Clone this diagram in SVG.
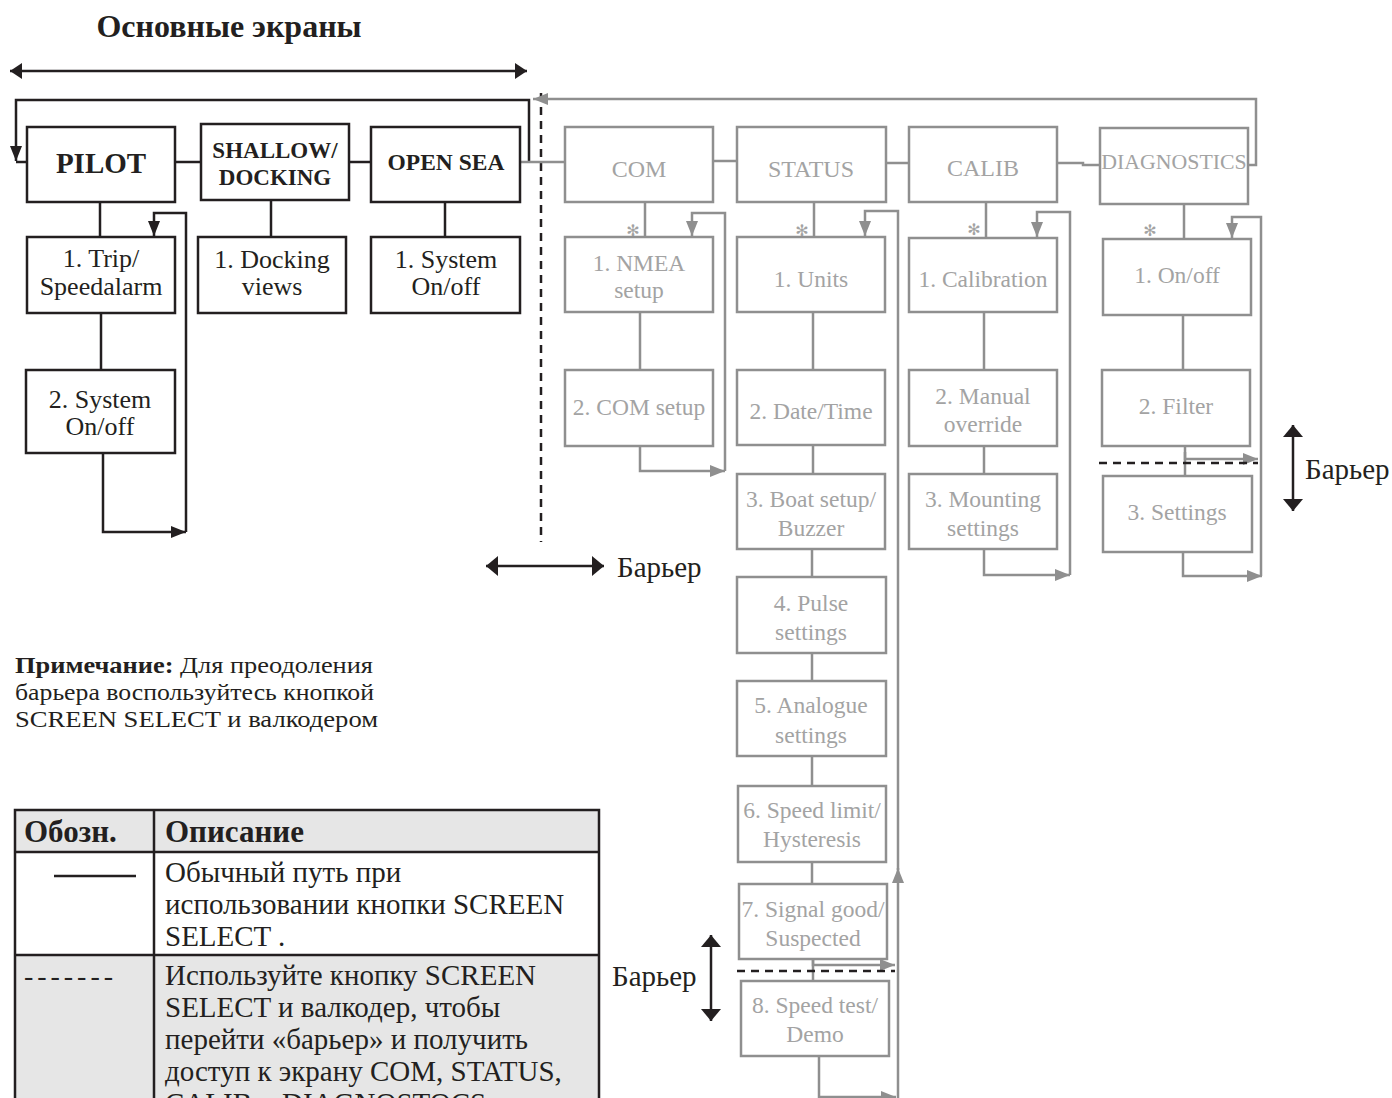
<svg xmlns="http://www.w3.org/2000/svg" width="1392" height="1098" viewBox="0 0 1392 1098">
<style>
.bk{fill:#fff;stroke:#231f20;stroke-width:2.5}
.gb{fill:#fff;stroke:#8f8f8f;stroke-width:2.5}
.t{font-family:"Liberation Serif","Times New Roman",serif;text-anchor:middle}
.tb{font-weight:bold;fill:#231f20}
.tn{font-size:26px;fill:#231f20}
.tg{fill:#a3a3a3}
.cb{fill:none;stroke:#231f20;stroke-width:2.5}
.cg{fill:none;stroke:#8f8f8f;stroke-width:2.5}
.dsh{fill:none;stroke:#231f20;stroke-width:2.5;stroke-dasharray:8 6}
.lbl{font-family:"Liberation Serif","Times New Roman",serif;fill:#231f20}
.ast{font-family:"DejaVu Sans",sans-serif;font-size:16px;fill:#a3a3a3;text-anchor:middle}
</style>
<defs>
<marker id="ab" markerUnits="userSpaceOnUse" markerWidth="16" markerHeight="12" refX="15" refY="6" orient="auto"><path d="M0,0 L15,6 L0,12 z" fill="#231f20"/></marker>
<marker id="ag" markerUnits="userSpaceOnUse" markerWidth="16" markerHeight="12" refX="15" refY="6" orient="auto"><path d="M0,0 L15,6 L0,12 z" fill="#8f8f8f"/></marker>
<marker id="bd" markerUnits="userSpaceOnUse" markerWidth="12" markerHeight="20" refX="12" refY="10" orient="auto-start-reverse"><path d="M0,0 L12,10 L0,20 z" fill="#231f20"/></marker>
<marker id="td" markerUnits="userSpaceOnUse" markerWidth="12" markerHeight="16" refX="12" refY="8" orient="auto-start-reverse"><path d="M0,0 L12,8 L0,16 z" fill="#231f20"/></marker>
</defs>
<rect width="1392" height="1098" fill="#fff"/>

<text class="lbl" x="229" y="37" font-size="32" font-weight="bold" text-anchor="middle">Основные экраны</text>

<g id="connectors">
<line class="cb" x1="10" y1="71" x2="527" y2="71" stroke-width="3" marker-start="url(#td)" marker-end="url(#td)"/>
<path class="cb" d="M529,162 V100 H16 V161" marker-end="url(#ab)"/>
<line class="cb" x1="16" y1="162" x2="27" y2="162"/>
<line class="cb" x1="175" y1="162" x2="201" y2="162"/>
<line class="cb" x1="349" y1="162" x2="371" y2="162"/>
<line class="cb" x1="100" y1="202" x2="100" y2="237"/>
<line class="cb" x1="101" y1="313" x2="101" y2="370"/>
<path class="cb" d="M103,453 V532 H186" marker-end="url(#ab)"/>
<path class="cb" d="M186,532 V213 H154 V236" marker-end="url(#ab)"/>
<line class="cb" x1="271" y1="200" x2="271" y2="237"/>
<line class="cb" x1="445" y1="202" x2="445" y2="237"/>
<line class="dsh" x1="541" y1="93" x2="541" y2="542"/>
<line class="cb" x1="486" y1="566" x2="604" y2="566" marker-start="url(#bd)" marker-end="url(#bd)"/>

<line class="cg" x1="520" y1="162" x2="565" y2="162"/>
<path class="cg" d="M1248,165 H1256 V99 H533" marker-end="url(#ag)"/>
<line class="cg" x1="713" y1="161" x2="737" y2="161"/>
<line class="cg" x1="885" y1="163" x2="909" y2="163"/>
<path class="cg" d="M1057,163 H1083 V165 H1100"/>

<line class="cg" x1="645" y1="202" x2="645" y2="237"/>
<line class="cg" x1="640" y1="312" x2="640" y2="370"/>
<path class="cg" d="M640,446 V471 H725" marker-end="url(#ag)"/>
<path class="cg" d="M725,471 V213 H692 V236" marker-end="url(#ag)"/>

<line class="cg" x1="814" y1="202" x2="814" y2="237"/>
<line class="cg" x1="813" y1="312" x2="813" y2="370"/>
<line class="cg" x1="813" y1="445" x2="813" y2="474"/>
<line class="cg" x1="812" y1="549" x2="812" y2="577"/>
<line class="cg" x1="812" y1="653" x2="812" y2="681"/>
<line class="cg" x1="812" y1="756" x2="812" y2="786"/>
<line class="cg" x1="812" y1="862" x2="812" y2="884"/>
<line class="cg" x1="813" y1="959" x2="813" y2="981"/>
<path class="cg" d="M813,960 V965 H895" marker-end="url(#ag)"/>
<line class="dsh" x1="737" y1="971" x2="895" y2="971"/>
<path class="cg" d="M819,1056 V1097 H896" marker-end="url(#ag)"/>
<line class="cg" x1="898" y1="1098" x2="898" y2="868" marker-end="url(#ag)"/>
<path class="cg" d="M898,870 V211 H865 V236" marker-end="url(#ag)"/>
<line class="cb" x1="711" y1="935" x2="711" y2="1021" marker-start="url(#bd)" marker-end="url(#bd)"/>

<line class="cg" x1="986" y1="202" x2="986" y2="237"/>
<line class="cg" x1="984" y1="312" x2="984" y2="370"/>
<line class="cg" x1="984" y1="446" x2="984" y2="474"/>
<path class="cg" d="M984,549 V575 H1070" marker-end="url(#ag)"/>
<path class="cg" d="M1070,575 V212 H1037 V237" marker-end="url(#ag)"/>

<line class="cg" x1="1184" y1="204" x2="1184" y2="239"/>
<line class="cg" x1="1183" y1="315" x2="1183" y2="370"/>
<line class="cg" x1="1185" y1="446" x2="1185" y2="476"/>
<path class="cg" d="M1185,452 V459 H1258" marker-end="url(#ag)"/>
<line class="dsh" x1="1099" y1="463" x2="1258" y2="463"/>
<path class="cg" d="M1183,552 V576 H1262" marker-end="url(#ag)"/>
<path class="cg" d="M1261,576 V217 H1232 V238" marker-end="url(#ag)"/>
<line class="cb" x1="1293" y1="425" x2="1293" y2="511" marker-start="url(#bd)" marker-end="url(#bd)"/>
</g>

<text class="lbl" x="617" y="577" font-size="29">Барьер</text>
<text class="lbl" x="1305" y="479" font-size="29">Барьер</text>
<text class="lbl" x="612" y="986" font-size="29">Барьер</text>

<g id="pilot"><rect class="bk" x="27" y="127" width="148" height="75"/><text class="t tb" x="101" y="173" font-size="29">PILOT</text></g>
<g id="shallow"><rect class="bk" x="201" y="124" width="148" height="76"/><text class="t tb" x="275" y="158" font-size="23">SHALLOW/</text><text class="t tb" x="275" y="185" font-size="23">DOCKING</text></g>
<g id="opensea"><rect class="bk" x="371" y="127" width="149" height="75"/><text class="t tb" x="446" y="170" font-size="23.5">OPEN SEA</text></g>
<g id="trip"><rect class="bk" x="27" y="237" width="148" height="76"/><text class="t tn" x="101" y="267">1. Trip/</text><text class="t tn" x="101" y="295">Speedalarm</text></g>
<g id="system2"><rect class="bk" x="26" y="370" width="149" height="83"/><text class="t tn" x="100" y="408">2. System</text><text class="t tn" x="100" y="435">On/off</text></g>
<g id="docking"><rect class="bk" x="198" y="237" width="148" height="76"/><text class="t tn" x="272" y="268">1. Docking</text><text class="t tn" x="272" y="295">views</text></g>
<g id="system1"><rect class="bk" x="371" y="237" width="149" height="76"/><text class="t tn" x="446" y="268">1. System</text><text class="t tn" x="446" y="295">On/off</text></g>

<g id="com"><rect class="gb" x="565" y="127" width="148" height="75"/><text class="t tg" x="639" y="177" font-size="24">COM</text></g>
<g id="status"><rect class="gb" x="737" y="127" width="149" height="75"/><text class="t tg" x="811" y="177" font-size="24">STATUS</text></g>
<g id="calib"><rect class="gb" x="909" y="127" width="148" height="75"/><text class="t tg" x="983" y="176" font-size="24">CALIB</text></g>
<g id="diagnostics"><rect class="gb" x="1100" y="128" width="148" height="76"/><text class="t tg" x="1174" y="169" font-size="21.8">DIAGNOSTICS</text></g>

<text class="ast" x="633" y="236">✻</text>
<text class="ast" x="802" y="236">✻</text>
<text class="ast" x="974" y="235">✻</text>
<text class="ast" x="1150" y="236">✻</text>

<g font-size="23.5">
<g id="nmea"><rect class="gb" x="565" y="237" width="148" height="75"/><text class="t tg" x="639" y="271">1. NMEA</text><text class="t tg" x="639" y="298">setup</text></g>
<g id="comsetup"><rect class="gb" x="565" y="370" width="148" height="76"/><text class="t tg" x="639" y="415">2. COM setup</text></g>

<g id="units"><rect class="gb" x="737" y="237" width="148" height="75"/><text class="t tg" x="811" y="287">1. Units</text></g>
<g id="datetime"><rect class="gb" x="737" y="370" width="148" height="75"/><text class="t tg" x="811" y="419">2. Date/Time</text></g>
<g id="boat"><rect class="gb" x="737" y="474" width="148" height="75"/><text class="t tg" x="811" y="507">3. Boat setup/</text><text class="t tg" x="811" y="536">Buzzer</text></g>
<g id="pulse"><rect class="gb" x="737" y="577" width="149" height="76"/><text class="t tg" x="811" y="611">4. Pulse</text><text class="t tg" x="811" y="640">settings</text></g>
<g id="analogue"><rect class="gb" x="737" y="681" width="149" height="75"/><text class="t tg" x="811" y="713">5. Analogue</text><text class="t tg" x="811" y="743">settings</text></g>
<g id="speedlimit"><rect class="gb" x="738" y="786" width="148" height="76"/><text class="t tg" x="812" y="818">6. Speed limit/</text><text class="t tg" x="812" y="847">Hysteresis</text></g>
<g id="signal"><rect class="gb" x="739" y="884" width="148" height="75"/><text class="t tg" x="813" y="917">7. Signal good/</text><text class="t tg" x="813" y="946">Suspected</text></g>
<g id="speedtest"><rect class="gb" x="741" y="981" width="148" height="75"/><text class="t tg" x="815" y="1013">8. Speed test/</text><text class="t tg" x="815" y="1042">Demo</text></g>

<g id="calibration"><rect class="gb" x="909" y="238" width="148" height="74"/><text class="t tg" x="983" y="287">1. Calibration</text></g>
<g id="manual"><rect class="gb" x="909" y="370" width="148" height="76"/><text class="t tg" x="983" y="404">2. Manual</text><text class="t tg" x="983" y="432">override</text></g>
<g id="mounting"><rect class="gb" x="909" y="474" width="148" height="75"/><text class="t tg" x="983" y="507">3. Mounting</text><text class="t tg" x="983" y="536">settings</text></g>

<g id="onoff"><rect class="gb" x="1103" y="239" width="148" height="76"/><text class="t tg" x="1177" y="283">1. On/off</text></g>
<g id="filter"><rect class="gb" x="1102" y="370" width="148" height="76"/><text class="t tg" x="1176" y="414">2. Filter</text></g>
<g id="settings"><rect class="gb" x="1103" y="476" width="149" height="76"/><text class="t tg" x="1177" y="520">3. Settings</text></g>
</g>

<g id="note" class="lbl" font-size="24">
<text x="15" y="673" textLength="358" lengthAdjust="spacingAndGlyphs"><tspan font-weight="bold">Примечание:</tspan> Для преодоления</text>
<text x="15" y="700" textLength="359" lengthAdjust="spacingAndGlyphs">барьера воспользуйтесь кнопкой</text>
<text x="15" y="727" textLength="363" lengthAdjust="spacingAndGlyphs">SCREEN SELECT и валкодером</text>
</g>

<g id="legend">
<rect x="15" y="810" width="584" height="42" fill="#e6e6e6"/>
<rect x="15" y="852" width="584" height="103" fill="#fff"/>
<rect x="15" y="955" width="584" height="160" fill="#e6e6e6"/>
<path d="M15,1120 V810 H599 V1120 M15,852 H599 M15,955 H599 M154,810 V1120" fill="none" stroke="#231f20" stroke-width="2.5"/>
<text class="lbl" x="24" y="842" font-size="31" font-weight="bold">Обозн.</text>
<text class="lbl" x="165" y="842" font-size="31" font-weight="bold">Описание</text>
<line x1="54" y1="876" x2="136" y2="876" stroke="#231f20" stroke-width="2.5"/>
<g font-size="29">
<text class="lbl" x="165" y="882">Обычный путь при</text>
<text class="lbl" x="165" y="914">использовании кнопки SCREEN</text>
<text class="lbl" x="165" y="946">SELECT .</text>
<text class="lbl" x="24" y="985" font-size="28" textLength="89" lengthAdjust="spacing">- - - - - - -</text>
<text class="lbl" x="165" y="985">Используйте кнопку SCREEN</text>
<text class="lbl" x="165" y="1017">SELECT и валкодер, чтобы</text>
<text class="lbl" x="165" y="1049">перейти «барьер» и получить</text>
<text class="lbl" x="165" y="1081">доступ к экрану COM, STATUS,</text>
<text class="lbl" x="165" y="1113">CALIB и DIAGNOSTOCS.</text>
</g>
</g>
</svg>
